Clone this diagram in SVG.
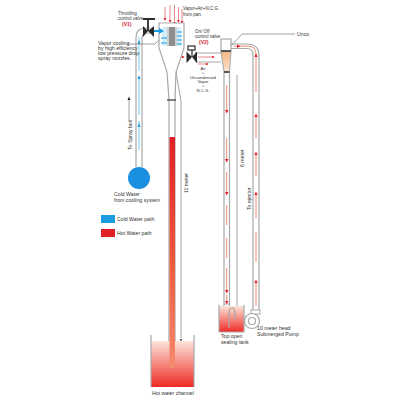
<svg xmlns="http://www.w3.org/2000/svg" width="400" height="400" viewBox="0 0 400 400">
<style>
text{font-family:"Liberation Sans",Arial,sans-serif;font-size:5.2px;fill:#333}
.s{font-size:4.5px}
.t{font-size:4.2px}
.r{fill:#d2232a;font-weight:bold;font-size:5px}
.p{fill:#fff;stroke:#a8a8a8;stroke-width:1.2}
.e{fill:none;stroke:#a8a8a8;stroke-width:1.2}
.l{fill:none;stroke:#666;stroke-width:.6}
.hot{fill:none;stroke:#f08a70;stroke-width:1}
.cold{fill:none;stroke:#8fd6f4;stroke-width:1.2}
.ha{fill:#e8202a}
.ca{fill:#1b9be0}
.red{stroke:#e8505a;stroke-width:.7;fill:none}
</style>
<defs>
<linearGradient id="tank" x1="0" y1="0" x2="0" y2="1"><stop offset="0" stop-color="#fde4da"/><stop offset="1" stop-color="#ee2a24"/></linearGradient>
<linearGradient id="leg" x1="0" y1="0" x2="0" y2="1"><stop offset="0" stop-color="#e11f26"/><stop offset=".55" stop-color="#ee5a3e"/><stop offset="1" stop-color="#f58a6e"/></linearGradient>
<linearGradient id="cone" x1="0" y1="0" x2="0" y2="1"><stop offset="0" stop-color="#f6b47f"/><stop offset="1" stop-color="#fbe6d2"/></linearGradient>
<marker id="rh" markerWidth="5" markerHeight="5" refX="3" refY="2.5" orient="auto"><path d="M0 .5L4 2.5L0 4.5z" fill="#e8202a"/></marker>
</defs>

<g id="connectors">
<path class="e" d="M136 167V38Q136 28 146 28H150M142 167V38Q142 33 147 33H150"/>
<path class="cold" d="M139 150V121M139 115V77M139 71V37"/>
<path d="M137.500 44L139 40L140.500 44zM137.500 79L139 75L140.500 79zM137.500 127L139 123L140.500 127z" class="ca"/>
<path class="e" d="M195 53H221M195 62H221"/>
<path class="red" d="M198 57H214" marker-end="url(#rh)"/>
<path class="red" d="M198 64H208" marker-end="url(#rh)"/>
<path class="red" d="M177 57H184" marker-end="url(#rh)"/>
<path class="e" d="M224 72V308M229.500 72V308"/>
<path class="hot" d="M226.700 85V110M226.700 138V160M226.700 172V193M226.700 205V225M226.700 238V258M226.700 268V290M226.700 295V304"/>
<path class="ha" d="M225 110H228.500L226.700 113.500zM225 159H228.500L226.700 162.500zM225 192H228.500L226.700 195.500zM225 290H228.500L226.700 293.500zM225 301H228.500L226.700 304.500z"/>
<path class="e" d="M231 44H247Q259 44 259 56V312M231 48.500H247Q253 48.500 253 55V312"/>
<path class="hot" d="M234 46.200H248Q256 46.200 256 54V92M256 115V138M256 153V176M256 193V218M256 232V262M256 281V306"/>
<path class="ha" d="M254.300 117L256 113.500L257.700 117zM254.300 155L256 151.500L257.700 155zM254.300 195L256 191.500L257.700 195zM254.300 283L256 279.500L257.700 283zM254.300 57L256 53.500L257.700 57zM237 44.500L240.500 46.200L237 48z"/>
<path class="l" d="M129 122V99"/><path d="M127.500 100L129 96.500L130.500 100z" fill="#222"/>
<path class="l" d="M181 101V338M237 75V314M176 72L181 101"/>
<path d="M179.800 339L181 341.500L182.200 339zM235.800 311L237 313.500L238.200 311z" fill="#333"/>
<path class="l" d="M127 44H155L163 36M231 46L242 34H295"/>
<path class="red" d="M165 7V20" marker-end="url(#rh)"/>
<path class="red" d="M170 5V22" marker-end="url(#rh)"/>
<path class="red" d="M174.500 5V24" marker-end="url(#rh)"/>
<path class="red" d="M178.500 7V22" marker-end="url(#rh)"/>
<path class="red" d="M182 9V23" marker-end="url(#rh)"/>
</g>

<g id="spray-box">
<path class="p" d="M159 23H184V48L176 72L175 100V368H169V100L167 72L159 48Z"/>
<rect x="162" y="27" width="19" height="19" fill="#d4effb"/>
<path d="M167 27H177V46H167z" fill="#cfcfcf"/>
<path d="M169 27H175V46H169z" fill="#8e8e8e"/>
<path class="ca" d="M152 30H159V28L164 31L159 34V32H152z"/>
<path d="M161 38H167M161 43H167M177 32H182M177 36H182M177 40H182M177 44H182" stroke="#1b9be0" stroke-width="1"/>
<path d="M167 100H176" stroke="#333" stroke-width="1.200"/>
</g>

<g id="valve-v1">
<path d="M143 26L148 31L143 37zM148 31L154 26V37z" fill="#2a2a2a"/>
<path d="M148 31V20M143 19H155" stroke="#2a2a2a" stroke-width="1.800" fill="none"/>
<text x="118" y="14.500" class="s">Throttling</text><text x="118" y="19.500" class="s">control valve</text><text x="122" y="25.500" class="r">(V1)</text>
</g>

<g id="valve-v2">
<path d="M186.500 51.500L192 57L186.500 63zM192 57L197 51.500V63z" fill="#2a2a2a"/>
<path d="M192 57V50" stroke="#2a2a2a" stroke-width="1.200"/>
<rect x="188" y="46" width="7" height="4" fill="#fff" stroke="#2a2a2a" stroke-width="1.200"/>
<text x="195" y="33" class="s">On/ Off</text><text x="195" y="38" class="s">control valve</text><text x="199" y="44" class="r">(V2)</text>
</g>

<g id="separator">
<path d="M221 51H231L229.500 72H224Z" fill="url(#cone)" stroke="#a8a8a8"/>
<rect x="221" y="39" width="10" height="12" fill="#fff" stroke="#a8a8a8" stroke-width="1.200"/>
<path d="M221 51H231" stroke="#333" stroke-width="1.500"/>
<path d="M224 72H229.500" stroke="#333" stroke-width="1.500"/>
</g>

<g id="hot-water-channel">
<rect x="151" y="341" width="43" height="46" fill="url(#tank)"/>
<path class="e" d="M151 335V387M194 335V387"/>
<rect x="169.500" y="137" width="5.500" height="231" fill="url(#leg)"/>
<text x="152" y="394.500">Hot water channel</text>
</g>

<g id="sealing-tank">
<rect x="219" y="306" width="25" height="26" fill="url(#tank)"/>
<path class="e" d="M219 305V332H244V305"/>
<path class="e" d="M229 328V313Q229 308 232 308Q235 308 235 313V320"/>
<path d="M224 304H229.500" stroke="#a8a8a8" stroke-width="1"/>
<text x="221" y="338">Top open</text><text x="221" y="344">sealing tank</text>
</g>

<g id="pump">
<rect x="251" y="310" width="9" height="4" fill="#fff" stroke="#a8a8a8"/>
<circle cx="252" cy="321" r="7.500" fill="#fff" stroke="#a8a8a8" stroke-width="1.200"/>
<circle cx="252" cy="321" r="3.500" fill="#fff" stroke="#a8a8a8" stroke-width="1.200"/>
<text x="257" y="330">10 meter head</text><text x="257" y="336">Submerged Pump</text>
</g>

<g id="cold-water">
<circle cx="139" cy="178" r="11" fill="#1b8fe0"/>
<text x="114" y="196">Cold Water</text><text x="114" y="201.500">from cooling system</text>
</g>

<g id="legend">
<rect x="101" y="215" width="14" height="8" fill="#1b9be0"/><text x="117" y="221">Cold Water path</text>
<rect x="101" y="229" width="14" height="8" fill="#e11f26"/><text x="117" y="235">Hot Water path</text>
</g>

<g id="labels">
<text x="183" y="10" class="s">Vapor+Air+N.C.G.</text><text x="183" y="15.500" class="s">from pan.</text>
<text x="98" y="45">Vapor cooling</text><text x="98" y="50">by high efficiency</text><text x="98" y="55">low pressure drop</text><text x="98" y="60">spray nozzles.</text>
<g text-anchor="middle"><text x="203" y="70" class="t">Air</text><text x="203" y="74.200" class="t">+</text><text x="203" y="78.500" class="t">Uncondensed</text><text x="203" y="83" class="t">Vapor</text><text x="203" y="87.200" class="t">+</text><text x="203" y="91.500" class="t">N.C.G.</text></g>
<text x="297" y="36">Unco</text>
<text transform="translate(132 150) rotate(-90)">To Spray box</text>
<text transform="translate(188 193) rotate(-90)">11 meter</text>
<text transform="translate(244 167) rotate(-90)">6 meter</text>
<text transform="translate(251 210) rotate(-90)">To ejector</text>
</g>
</svg>
